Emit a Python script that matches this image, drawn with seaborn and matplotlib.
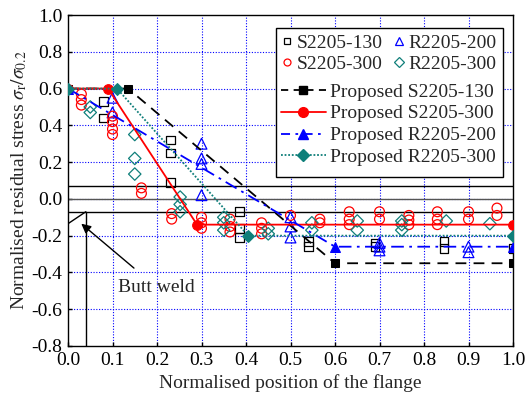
import matplotlib
matplotlib.use("Agg")
import matplotlib.pyplot as plt
import seaborn as sns
import pandas as pd
from matplotlib.patches import Rectangle
from matplotlib.lines import Line2D

# ---- data ----
s130_x = [0.08, 0.08, 0.23, 0.23, 0.23, 0.385, 0.385, 0.385, 0.54, 0.54, 0.69, 0.69, 0.845, 0.845, 1.0]
s130_y = [0.53, 0.44, 0.32, 0.25, 0.09, -0.07, -0.16, -0.21, -0.23, -0.26, -0.24, -0.26, -0.23, -0.27, -0.27]

r200_x = [0.1, 0.1, 0.3, 0.3, 0.3, 0.3, 0.5, 0.5, 0.5, 0.7, 0.7, 0.7, 0.9, 0.9]
r200_y = [0.55, 0.47, 0.30, 0.22, 0.19, 0.02, -0.10, -0.15, -0.21, -0.24, -0.26, -0.28, -0.26, -0.29]

s300_x = [0.03, 0.03, 0.03, 0.1, 0.1, 0.1, 0.1, 0.165, 0.165, 0.233, 0.233, 0.3, 0.3, 0.3,
          0.364, 0.364, 0.364, 0.435, 0.435, 0.435, 0.5, 0.566, 0.566, 0.632, 0.632, 0.632,
          0.7, 0.7, 0.766, 0.766, 0.766, 0.83, 0.83, 0.83, 0.9, 0.9, 0.964, 0.964]
s300_y = [0.57, 0.54, 0.51, 0.45, 0.42, 0.38, 0.35, 0.06, 0.03, -0.08, -0.11, -0.10, -0.13, -0.16,
          -0.11, -0.15, -0.18, -0.13, -0.16, -0.19, -0.09, -0.11, -0.13, -0.07, -0.11, -0.14,
          -0.07, -0.11, -0.09, -0.115, -0.14, -0.07, -0.11, -0.14, -0.07, -0.11, -0.05, -0.09]

r300_x = [0.05, 0.05, 0.15, 0.15, 0.15, 0.252, 0.252, 0.252, 0.35, 0.35, 0.35, 0.45, 0.45,
          0.548, 0.548, 0.65, 0.65, 0.75, 0.75, 0.75, 0.85, 0.948]
r300_y = [0.50, 0.47, 0.35, 0.22, 0.135, 0.01, -0.03, -0.07, -0.10, -0.13, -0.17, -0.16, -0.19,
          -0.13, -0.17, -0.12, -0.17, -0.12, -0.14, -0.17, -0.12, -0.135]

p_s130_x = [0.0, 0.135, 0.6, 1.0]
p_s130_y = [0.6, 0.6, -0.35, -0.35]
p_s300_x = [0.0, 0.09, 0.29, 1.0]
p_s300_y = [0.6, 0.6, -0.14, -0.14]
p_r200_x = [0.0, 0.6, 1.0]
p_r200_y = [0.6, -0.26, -0.26]
p_r300_x = [0.0, 0.11, 0.405, 1.0]
p_r300_y = [0.6, 0.6, -0.2, -0.2]

x_ticks = [0.0, 0.1, 0.2, 0.3, 0.4, 0.5, 0.6, 0.7, 0.8, 0.9, 1.0]
y_ticks = [-0.8, -0.6, -0.4, -0.2, 0.0, 0.2, 0.4, 0.6, 0.8, 1.0]

RED = "#ff0000"
BLUE = "#0000ff"
TEAL = "#0f7f7a"

sns.set_theme(style="white")
plt.rcParams["font.family"] = ["Liberation Serif", "DejaVu Serif"]
plt.rcParams["mathtext.fontset"] = "stix"
plt.rcParams["axes.unicode_minus"] = False

fig = plt.figure(figsize=(5.29, 4.01), dpi=100)
ax = fig.add_axes([68 / 529, 1 - 346 / 401, 445 / 529, 331 / 401])

# grid
for xv in x_ticks[1:-1]:
    ax.axvline(xv, color=BLUE, ls=(0, (1, 1.5)), lw=0.8, zorder=0)
for yv in y_ticks[1:-1]:
    ax.axhline(yv, color=BLUE, ls=(0, (1, 1.5)), lw=0.8, zorder=0)

# reference lines
ax.axhline(0.0, color="#555555", lw=1.0, zorder=1)
ax.axhline(0.07, color="black", lw=1.0, zorder=1)
ax.axhline(-0.07, color="black", lw=1.0, zorder=1)
ax.plot([0.04, 0.04], [-0.07, -0.8], color="black", lw=1.0, zorder=1)
ax.plot([0.0, 0.04], [-0.135, -0.07], color="black", lw=1.0, zorder=1)

# test data
ms = 7
sns.scatterplot(x=s130_x, y=s130_y, ax=ax, marker="s", s=40, facecolor="none",
                edgecolor="black", linewidth=0.9, zorder=3)
sns.scatterplot(x=r200_x, y=r200_y, ax=ax, marker="^", s=60, facecolor="none",
                edgecolor=BLUE, linewidth=0.9, zorder=3)
sns.scatterplot(x=s300_x, y=s300_y, ax=ax, marker="o", s=50, facecolor="none",
                edgecolor=RED, linewidth=0.9, zorder=3)
sns.scatterplot(x=r300_x, y=r300_y, ax=ax, marker="D", s=40, facecolor="none",
                edgecolor=TEAL, linewidth=0.9, zorder=3)

# proposed models
def prop(xs, ys, color, ls, marker, msz):
    df = pd.DataFrame({"x": xs, "y": ys})
    sns.lineplot(data=df, x="x", y="y", ax=ax, sort=False, estimator=None, color=color,
                 linestyle=ls, lw=1.3, marker=marker, markersize=msz,
                 markeredgecolor=color, markerfacecolor=color, zorder=4)

prop(p_s130_x, p_s130_y, "black", (0, (6, 4)), "s", 6)
prop(p_s300_x, p_s300_y, RED, "-", "o", 7)
prop(p_r200_x, p_r200_y, BLUE, (0, (7, 3, 1.5, 3)), "^", 7)
prop(p_r300_x, p_r300_y, TEAL, (0, (1, 1)), "D", 6)

# annotation
ax.annotate("", xy=(0.025, -0.125), xytext=(0.153, -0.386),
            arrowprops=dict(arrowstyle="-|>", color="black", lw=1.0, mutation_scale=14))
ax.text(0.198, -0.48, "Butt weld", ha="center", va="center", fontsize=14)

ax.set_xlim(0, 1.0)
ax.set_ylim(-0.8, 1.0)
ax.set_xticks(x_ticks)
ax.set_yticks(y_ticks)
ax.set_xticklabels([f"{v:.1f}" for v in x_ticks])
ax.set_yticklabels([f"{v:.1f}" for v in y_ticks])
ax.tick_params(axis="both", labelsize=14, colors="black", direction="in", length=3,
               width=1.0, bottom=True, left=True)
ax.tick_params(axis="x", pad=4)
ax.tick_params(axis="y", pad=4)
for sp in ax.spines.values():
    sp.set_color("black")
    sp.set_linewidth(1.0)
ax.set_xlabel("Normalised position of the flange", fontsize=14, labelpad=4)
ax.set_ylabel(r"Normalised residual stress $\sigma_{\rm r}/\sigma_{0.2}$", fontsize=14, labelpad=2)

# legend frame
ax.add_patch(Rectangle((0.467, 0.511), 0.511, 0.450, transform=ax.transAxes,
                       facecolor="white", edgecolor="black", lw=1.0, zorder=6))

h1 = [Line2D([], [], ls="none", marker="s", ms=5, mfc="none", mec="black", mew=0.9),
      Line2D([], [], ls="none", marker="o", ms=5, mfc="none", mec=RED, mew=0.9),
      Line2D([], [], ls="none", marker="^", ms=6, mfc="none", mec=BLUE, mew=0.9),
      Line2D([], [], ls="none", marker="D", ms=5, mfc="none", mec=TEAL, mew=0.9)]
l1 = ["S2205-130", "S2205-300", "R2205-200", "R2205-300"]
leg1 = ax.legend(h1, l1, ncol=2, loc="center left", bbox_to_anchor=(0.4787, 0.8837),
                 frameon=False, borderpad=0, borderaxespad=0, handlelength=0.6,
                 handletextpad=0.2, columnspacing=0.55, labelspacing=0.2, fontsize=14)
leg1.set_zorder(7)
ax.add_artist(leg1)

h2 = [Line2D([], [], color="black", ls=(0, (4, 3)), lw=1.3, marker="s", ms=6),
      Line2D([], [], color=RED, ls="-", lw=1.3, marker="o", ms=7),
      Line2D([], [], color=BLUE, ls=(0, (5, 3, 1.5, 3)), lw=1.3, marker="^", ms=7),
      Line2D([], [], color=TEAL, ls=(0, (1, 1)), lw=1.3, marker="D", ms=6)]
l2 = ["Proposed S2205-130", "Proposed S2205-300", "Proposed R2205-200", "Proposed R2205-300"]
leg2 = ax.legend(h2, l2, loc="center left", bbox_to_anchor=(0.4787, 0.669),
                 frameon=False, borderpad=0, borderaxespad=0, handlelength=2.3,
                 handletextpad=0.2, labelspacing=0.22, fontsize=14)
leg2.set_zorder(7)

fig.savefig("out.png", dpi=100)
